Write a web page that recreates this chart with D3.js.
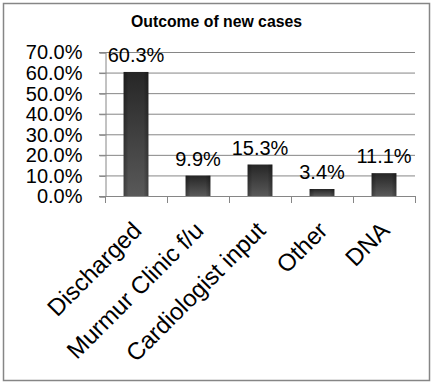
<!DOCTYPE html>
<html>
<head>
<meta charset="utf-8">
<script src="https://cdn.jsdelivr.net/npm/d3@7"></script>
<style>
  body { margin: 0; background: #fff; }
  svg { display: block; font-family: Arial, "Liberation Sans", sans-serif; }
</style>
</head>
<body>
<svg width="434" height="385"></svg>
<script>
// chart data
var categories = ["Discharged", "Murmur Clinic f/u", "Cardiologist input", "Other", "DNA"];
var values = [0.603, 0.099, 0.153, 0.034, 0.111];
var valueLabels = ["60.3%", "9.9%", "15.3%", "3.4%", "11.1%"];
var yTicks = [0, 0.1, 0.2, 0.3, 0.4, 0.5, 0.6, 0.7];
var title = "Outcome of new cases";

let svg = d3.select("svg");
let width = parseInt(svg.attr("width"));
let height = parseInt(svg.attr("height"));

// plot area
var plotLeft = 105, plotRight = 415, plotTop = 52, plotBottom = 196;

// outer border
svg.append("rect")
    .attr("x", 3.5).attr("y", 3.5)
    .attr("width", width - 8).attr("height", height - 8)
    .attr("fill", "#fff")
    .attr("stroke", "#868686")
    .attr("stroke-width", 1.5);

// gradients for the bars
var defs = svg.append("defs");
var vGrad = defs.append("linearGradient")
    .attr("id", "barV").attr("x1", 0).attr("y1", 0).attr("x2", 0).attr("y2", 1);
vGrad.append("stop").attr("offset", "0%").attr("stop-color", "#262626");
vGrad.append("stop").attr("offset", "100%").attr("stop-color", "#595959");
var hGrad = defs.append("linearGradient")
    .attr("id", "barH").attr("x1", 0).attr("y1", 0).attr("x2", 1).attr("y2", 0);
hGrad.append("stop").attr("offset", "0%").attr("stop-color", "#000").attr("stop-opacity", 0.3);
hGrad.append("stop").attr("offset", "20%").attr("stop-color", "#000").attr("stop-opacity", 0);
hGrad.append("stop").attr("offset", "80%").attr("stop-color", "#000").attr("stop-opacity", 0);
hGrad.append("stop").attr("offset", "100%").attr("stop-color", "#000").attr("stop-opacity", 0.3);

// scales
var x = d3.scaleBand()
    .domain(categories)
    .range([plotLeft, plotRight])
    .paddingInner(0.6)
    .paddingOuter(0.3);
var xOuter = d3.scaleBand().domain(categories).range([plotLeft, plotRight]);
var y = d3.scaleLinear().domain([0, 0.7]).range([plotBottom, plotTop]);

// title
svg.append("text")
    .attr("x", 216.5).attr("y", 27)
    .attr("text-anchor", "middle")
    .attr("font-size", 16)
    .attr("font-weight", "bold")
    .attr("textLength", 171)
    .attr("lengthAdjust", "spacingAndGlyphs")
    .text(title);

// horizontal gridlines with tick stubs
svg.append("g")
    .selectAll("line")
    .data(yTicks.slice(1))
    .enter()
    .append("line")
    .attr("x1", plotLeft - 6).attr("x2", plotRight)
    .attr("y1", function (d) { return y(d) + 0.5; })
    .attr("y2", function (d) { return y(d) + 0.5; })
    .attr("stroke", "#868686");

// y axis
var yAxis = d3.axisLeft(y)
    .tickValues(yTicks)
    .tickSize(6)
    .tickPadding(17)
    .tickFormat(d3.format(".1%"));
var yg = svg.append("g")
    .attr("transform", "translate(" + (plotLeft + 0.5) + ",0.5)")
    .call(yAxis);
yg.select(".domain").attr("stroke", "#868686");
yg.selectAll(".tick line").attr("stroke", "#868686");
yg.selectAll(".tick text")
    .attr("font-size", 20)
    .attr("font-family", "Arial, 'Liberation Sans', sans-serif")
    .attr("fill", "#000");

// x axis line and category boundary ticks
svg.append("line")
    .attr("x1", plotLeft - 6).attr("x2", plotRight + 0.5)
    .attr("y1", plotBottom + 0.5).attr("y2", plotBottom + 0.5)
    .attr("stroke", "#868686");
var bounds = categories.map(function (c) { return xOuter(c); }).concat([plotRight]);
svg.append("g")
    .selectAll("line")
    .data(bounds)
    .enter()
    .append("line")
    .attr("x1", function (d) { return Math.round(d) + 0.5; })
    .attr("x2", function (d) { return Math.round(d) + 0.5; })
    .attr("y1", plotBottom).attr("y2", plotBottom + 7)
    .attr("stroke", "#868686");

// bars
var bars = svg.append("g");
bars.selectAll("rect.bar")
    .data(values)
    .enter()
    .append("rect")
    .attr("class", "bar")
    .attr("x", function (d, i) { return x(categories[i]); })
    .attr("y", function (d) { return y(d); })
    .attr("width", x.bandwidth())
    .attr("height", function (d) { return plotBottom - y(d); })
    .attr("fill", "url(#barV)");
bars.selectAll("rect.shade")
    .data(values)
    .enter()
    .append("rect")
    .attr("class", "shade")
    .attr("x", function (d, i) { return x(categories[i]); })
    .attr("y", function (d) { return y(d); })
    .attr("width", x.bandwidth())
    .attr("height", function (d) { return plotBottom - y(d); })
    .attr("fill", "url(#barH)");

// value labels
svg.append("g")
    .selectAll("text")
    .data(values)
    .enter()
    .append("text")
    .attr("x", function (d, i) { return x(categories[i]) + x.bandwidth() / 2; })
    .attr("y", function (d) { return y(d) - 10; })
    .attr("text-anchor", "middle")
    .attr("font-size", 20)
    .text(function (d, i) { return valueLabels[i]; });

// rotated category labels
svg.append("g")
    .selectAll("text")
    .data(categories)
    .enter()
    .append("text")
    .attr("transform", function (d) {
        return "translate(" + (xOuter(d) + xOuter.bandwidth() / 2 + 7) + ",232) rotate(-45)";
    })
    .attr("text-anchor", "end")
    .attr("font-size", 24)
    .text(function (d) { return d; });
</script>
</body>
</html>
